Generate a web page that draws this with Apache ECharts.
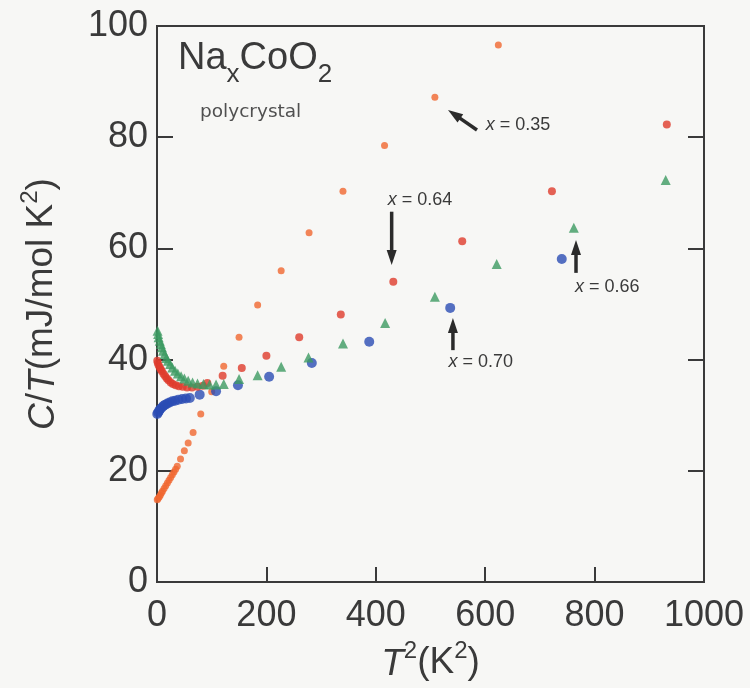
<!DOCTYPE html>
<html lang="en">
<head>
<meta charset="UTF-8">
<title>NaxCoO2 C/T vs T2</title>
<style>
    html, body { margin: 0; padding: 0; background: #f7f7f5; }
    #main { width: 750px; height: 688px; }
</style>
</head>
<body>
<div id="main"></div>
<script src="https://cdn.jsdelivr.net/npm/echarts@6/dist/echarts.min.js"></script>
<script type="text/javascript">
    // [T^2 (K^2), C/T (mJ/mol K^2)]
    var x035 = [[0.5,14.8],[2,15.0],[4,15.3],[6,15.6],[8,16.0],[10,16.3],[13,16.8],[16,17.3],[19,17.8],
        [22,18.3],[25,18.8],[28,19.3],[31,19.8],[34,20.3],[37,20.8],[43,22.1],[50,23.6],[57,25.0],
        [66,26.9],[80,30.2],[100,34.2],[122,38.8],[150,44.0],[184,49.8],[227,56.0],[278,62.8],
        [340,70.3],[416,78.5],[508,87.2],[624,96.6]];
    var x064 = [[0.5,39.8],[1.5,39.4],[3,39.0],[5,38.6],[7,38.2],[9,37.9],[12,37.4],[15,37.0],[18,36.6],
        [21,36.3],[25,35.9],[29,35.6],[34,35.4],[40,35.2],[47,35.1],[55,35.0],[64,35.0],[74,35.1],
        [84,35.3],[92,35.8],[120,37.1],[155,38.5],[200,40.7],[260,44.0],[336,48.1],[432,54.0],
        [558,61.3],[722,70.3],[932,82.3]];
    var x066 = [[1,45.2],[2,44.6],[3,44.0],[5,43.4],[7,42.8],[9,42.2],[11,41.6],[14,41.0],[17,40.3],
        [20,39.8],[24,39.2],[28,38.6],[33,38.0],[38,37.5],[44,37.0],[50,36.6],[57,36.2],[65,35.9],
        [74,35.7],[85,35.6],[96,35.5],[108,35.5],[122,35.6],[150,36.5],[184,37.2],[227,38.7],
        [277,40.4],[340,42.9],[417,46.6],[508,51.3],[621,57.2],[762,63.7],[930,72.3]];
    var x070 = [[0.5,30.2],[2,30.5],[4,30.8],[6,31.1],[9,31.4],[12,31.7],[15,31.9],[19,32.1],[23,32.3],
        [28,32.5],[33,32.6],[39,32.8],[46,32.9],[53,33.0],[60,33.1],[78,33.7],[108,34.3],[148,35.4],
        [205,36.9],[283,39.4],[388,43.2],[536,49.3],[740,58.1]];

    var xTicks = [0, 200, 400, 600, 800, 1000];
    var yTicks = [0, 20, 40, 60, 80, 100];

    // annotation arrows [tailX, tailY, tipX, tipY] and notes [x, y, text], data coords
    var arrows = [[585, 81.3, 532, 84.9], [429, 66.6, 429, 57.0], [541, 41.7, 541, 47.5], [766, 55.6, 766, 61.5]];
    var notes = [[660, 82.2, '0.35'], [481, 68.7, '0.64'], [592, 39.6, '0.70'], [823, 53.1, '0.66']];

    var font = '"Liberation Sans", Arial, sans-serif';
    var ink = '#3a3a3a';

    var chart = echarts.init(document.getElementById('main'));

    function yAxisOf(pos, withLabel) {
        return {
            type: 'value', position: pos, min: yTicks[0], max: yTicks[yTicks.length - 1], interval: 20,
            axisLine: { show: true, lineStyle: { color: ink, width: 2 } },
            axisTick: { show: true, inside: true, length: 16, lineStyle: { color: ink, width: 2 } },
            axisLabel: { show: withLabel, fontSize: 36, color: ink, fontFamily: font, margin: 9 },
            splitLine: { show: false }
        };
    }

    var yMain = yAxisOf('left', true);
    yMain.name = '{i|C}/{i|T}(mJ/mol K{sup|2})';
    yMain.nameLocation = 'middle';
    yMain.nameGap = 95;
    yMain.nameTextStyle = {
        fontSize: 37, color: ink, fontFamily: font,
        rich: {
            i: { fontSize: 37, fontStyle: 'italic', color: ink, fontFamily: font, verticalAlign: 'bottom', lineHeight: 40 },
            sup: { fontSize: 24, color: ink, fontFamily: font, verticalAlign: 'bottom', lineHeight: 26, padding: [0, 0, 20, 0] }
        }
    };

    chart.setOption({
        backgroundColor: '#f7f7f5',
        animation: false,
        grid: { left: 157, right: 46, top: 26, bottom: 106, show: true, borderColor: ink, borderWidth: 2, backgroundColor: 'transparent' },
        xAxis: {
            type: 'value', min: xTicks[0], max: xTicks[xTicks.length - 1], interval: 200,
            name: '{i|T}{sup|2}(K{sup|2})',
            nameLocation: 'middle', nameGap: 56,
            nameTextStyle: {
                fontSize: 37, color: ink, fontFamily: font,
                rich: {
                    i: { fontSize: 37, fontStyle: 'italic', color: ink, fontFamily: font, verticalAlign: 'bottom', lineHeight: 40 },
                    sup: { fontSize: 24, color: ink, fontFamily: font, verticalAlign: 'bottom', lineHeight: 26, padding: [0, 0, 20, 0] }
                }
            },
            axisLine: { show: true, lineStyle: { color: ink, width: 2 } },
            axisTick: { show: true, inside: true, length: 15, lineStyle: { color: ink, width: 2 } },
            axisLabel: { fontSize: 36, color: ink, fontFamily: font, margin: 16, formatter: function (v) { return String(v); } },
            splitLine: { show: false }
        },
        yAxis: [yMain, yAxisOf('right', false)],
        series: [
            { name: 'x = 0.35', type: 'scatter', data: x035, symbol: 'circle', symbolSize: 7, itemStyle: { color: '#f0662f' } },
            { name: 'x = 0.70', type: 'scatter', data: x070, symbol: 'circle', symbolSize: 10, itemStyle: { color: '#2a4cb4' } },
            { name: 'x = 0.64', type: 'scatter', data: x064, symbol: 'circle', symbolSize: 8, itemStyle: { color: '#df3b2c' } },
            { name: 'x = 0.66', type: 'scatter', data: x066, symbol: 'triangle', symbolSize: 10, itemStyle: { color: '#3c9a62' } }
        ]
    });

    // labels and arrows, placed through the axes
    var g = [];
    g.push({
        type: 'text', left: 178, top: 40,
        style: {
            text: '{b|Na}{s|x}{b|CoO}{s|2}', fill: ink,
            rich: {
                b: { fontSize: 38, fontFamily: font, fill: ink, verticalAlign: 'top', lineHeight: 40 },
                s: { fontSize: 26, fontFamily: font, fill: ink, verticalAlign: 'top', lineHeight: 28, padding: [22, 0, 0, 0] }
            }
        }
    });
    g.push({ type: 'text', left: 200, top: 103, style: { text: 'polycrystal', fontSize: 18.5, fontFamily: '"DejaVu Sans", sans-serif', fill: '#505050' } });

    arrows.forEach(function (a) {
        var p1 = chart.convertToPixel({ gridIndex: 0 }, [a[0], a[1]]);
        var p2 = chart.convertToPixel({ gridIndex: 0 }, [a[2], a[3]]);
        var dx = p2[0] - p1[0], dy = p2[1] - p1[1];
        var len = Math.sqrt(dx * dx + dy * dy);
        var ux = dx / len, uy = dy / len;
        var hl = 15, hw = 5;
        var bx = p2[0] - ux * hl, by = p2[1] - uy * hl;
        g.push({ type: 'line', shape: { x1: p1[0], y1: p1[1], x2: bx + ux * 2, y2: by + uy * 2 }, style: { stroke: '#2b2b2b', lineWidth: 3.5 } });
        g.push({ type: 'polygon', shape: { points: [[p2[0], p2[1]], [bx - uy * hw, by + ux * hw], [bx + uy * hw, by - ux * hw]] }, style: { fill: '#2b2b2b' } });
    });
    notes.forEach(function (n) {
        var p = chart.convertToPixel({ gridIndex: 0 }, [n[0], n[1]]);
        g.push({
            type: 'text', x: p[0], y: p[1],
            style: {
                text: '{i|x} = ' + n[2], align: 'center', verticalAlign: 'middle', fill: ink,
                fontSize: 18, fontFamily: font,
                rich: { i: { fontSize: 18, fontStyle: 'italic', fontFamily: font, fill: ink } }
            }
        });
    });
    chart.setOption({ graphic: g });
</script>
</body>
</html>
